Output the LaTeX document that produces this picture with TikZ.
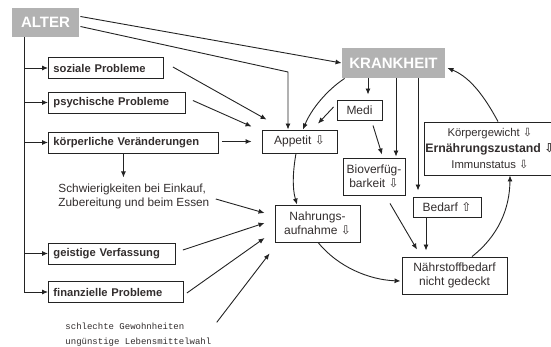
\documentclass[tikz,border=0pt]{standalone}
\usepackage{fontspec}
\setmainfont{Liberation Sans}
\newfontfamily\dvfont{DejaVu Sans}
\newfontfamily\monofont{Liberation Mono}
\usetikzlibrary{arrows.meta,calc}
\definecolor{boxgray}{RGB}{178,178,178}
\definecolor{ink}{RGB}{35,35,35}
\definecolor{txt}{RGB}{50,45,45}
\newcommand{\arrdn}{{\dvfont\char"21E9}}
\newcommand{\arrupw}{{\dvfont\char"21E7}}
\begin{document}
\begin{tikzpicture}[x=1pt,y=-1pt,
  line width=0.9pt,
  arr/.style={draw=ink, -{Latex[length=6pt,width=5pt]}},
  gbox/.style={fill=boxgray, text=white, font=\fontsize{15}{17}\selectfont\bfseries, inner sep=0pt},
  lbox/.style={draw=ink, anchor=west, align=left, inner xsep=5pt, inner ysep=0pt, minimum height=21pt, font=\fontsize{11.2}{13}\selectfont\bfseries, text=txt},
  cbox/.style={draw=ink, align=center, inner sep=0pt, font=\fontsize{12}{14.5}\selectfont, text=txt},
  plain/.style={inner sep=0pt, align=left, anchor=west, text=txt},
]
\useasboundingbox (0,0) rectangle (551,347);

% main nodes
\node[gbox, minimum width=67pt, minimum height=29pt] (alter) at (45.5,22.5) {ALTER};
\node[gbox, minimum width=103pt, minimum height=30pt] (krank) at (393.5,63) {KRANKHEIT};

\node[lbox, text width=105pt] (soz) at (48,68) {soziale Probleme};
\node[lbox, text width=127pt] (psy) at (48,102.5) {psychische Probleme};
\node[lbox, text width=160pt] (koerp) at (48,142.5) {körperliche Veränderungen};
\node[lbox, text width=117pt] (geist) at (48,253.5) {geistige Verfassung};
\node[lbox, text width=125pt] (finanz) at (48,292) {finanzielle Probleme};

\node[plain, font=\fontsize{11.8}{13.5}\selectfont] (schw) at (58,196.5) {Schwierigkeiten bei Einkauf,\\Zubereitung und beim Essen};
\node[plain, font=\monofont\fontsize{9}{15}\selectfont] (schl) at (65,334.5) {schlechte Gewohnheiten\\ungünstige Lebensmittelwahl};

\node[cbox, minimum width=75pt, minimum height=23pt] (app) at (299.5,141.5) {Appetit \arrdn};
\node[cbox, minimum width=85pt, minimum height=37pt] (nahr) at (317.5,223.5) {Nahrungs-\\aufnahme \arrdn};
\node[cbox, minimum width=45pt, minimum height=20pt] (medi) at (359.5,110) {Medi};
\node[cbox, minimum width=62pt, minimum height=37pt] (bio) at (374,176.5) {Bioverfüg-\\barkeit \arrdn};
\node[cbox, minimum width=68pt, minimum height=20pt] (bedarf) at (447,207) {Bedarf \arrupw};
\node[cbox, minimum width=105pt, minimum height=37pt] (naehr) at (454.5,275.5) {Nährstoffbedarf\\nicht gedeckt};
\node[cbox, minimum width=132pt, minimum height=53pt, font=\fontsize{11.3}{16}\selectfont] (ernz) at (490,148.5) {Körpergewicht \arrdn\\{\fontsize{12.3}{16}\selectfont\bfseries Ernährungszustand \arrdn}\\Immunstatus \arrdn};

% trunk from ALTER
\coordinate (trunk) at ($(alter.south west)+(13,0)$);
\draw[arr] (trunk) |- (finanz.west);
\draw[arr] (trunk |- soz.west) -- (soz.west);
\draw[arr] (trunk |- psy.west) -- (psy.west);
\draw[arr] (trunk |- koerp.west) -- (koerp.west);
\draw[arr] (trunk |- geist.west) -- (geist.west);

% ALTER to KRANKHEIT and Appetit
\draw[arr] ($(alter.east)+(1,-6)$) -- (krank.west);
\coordinate (bendA) at (288,72);
\draw[arr] ($(alter.east)+(1,4)$) -- (bendA) -- (bendA |- app.north);

% to Appetit
\draw[arr] ($(soz.east)+(9,-1)$) -- ($(app.north west)+(5,-10)$);
\draw[arr] ($(psy.east)+(7,-2)$) -- ($(app.north west)+(-10,-3)$);
\draw[arr] ($(koerp.east)+(3,-1)$) -- ($(app.west)+(-10,0)$);
\draw[arr] ($(koerp.south)+(-10,0)$) -- ++(0,24);

% to Nahrungsaufnahme
\draw[arr] ($(schw.east)+(6,2.5)$) -- ($(nahr.west)+(-10,-10.5)$);
\draw[arr] ($(geist.east)+(7,-3.5)$) -- ($(nahr.west)+(-10,-0.5)$);
\draw[arr] ($(finanz.east)+(3,1)$) -- ($(nahr.west)+(-10,14.5)$);
\draw[arr] ($(schl.north east)+(5,0)$) -- ($(nahr.south west)+(-5,11)$);

% KRANKHEIT branches
\draw[arr] ($(krank.south)+(-25.5,0)$) -- ($(medi.north)+(8.5,-5)$);
\draw[arr] ($(krank.south)+(2.5,0)$) -- ($(bio.north)+(22,-1)$);
\draw[arr] ($(krank.south)+(24.5,0)$) -- ($(bedarf.north)+(-29,-6)$);
\draw[arr] ($(medi.west)+(-3,-3)$) -- ($(app.north)+(18.5,-6)$);
\draw[arr] ($(medi.south)+(13.5,5)$) -- ($(bio.north)+(8,-3)$);
\draw[arr] ($(bio.south)+(16,8)$) -- ($(naehr.north)+(-37.5,-7)$);
\draw[arr] ($(bedarf.south)+(-21,0)$) -- ($(naehr.north)+(-28.5,-6)$);

% big cycle
\draw[arr] ($(krank.south west)+(3,0)$) .. controls +(-18,12) and +(8,-20) .. ($(app.north)+(3.5,0)$);
\draw[arr] ($(app.south)+(-3.5,0)$) .. controls +(-3,17) and +(-5,-17) .. ($(nahr.north)+(-20.5,0)$);
\draw[arr] ($(nahr.south)+(0.5,0)$) .. controls +(20,24.5) and +(-31.6,-1.2) .. ($(naehr.west)+(-1,5.5)$);
\draw[arr] ($(naehr.north)+(17.5,0)$) .. controls +(26.3,-20.6) and +(-0.3,33.4) .. ($(ernz.south)+(20,0)$);
\draw[arr] ($(ernz.north)+(8,0)$) .. controls +(-12.2,-22.6) and +(23.8,9.6) .. ($(krank.east)+(2,5)$);
\end{tikzpicture}
\end{document}
